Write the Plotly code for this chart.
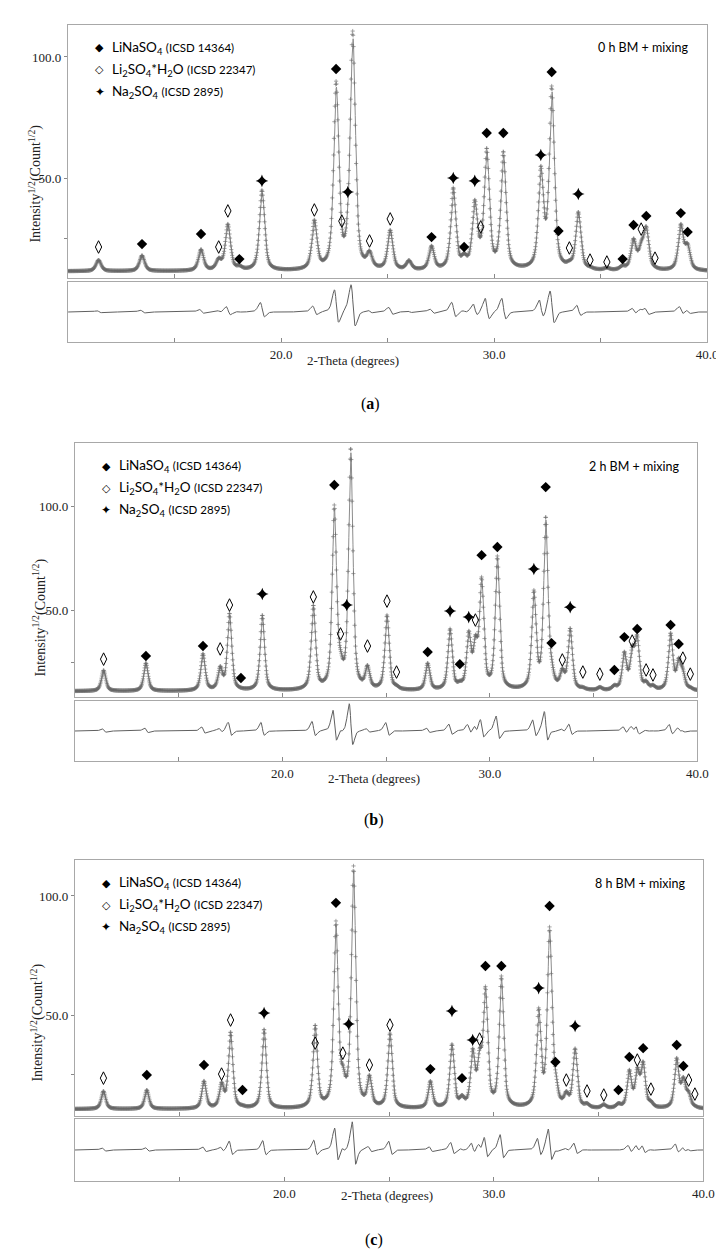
import numpy as np
import plotly.graph_objects as go

W, H = 724, 1253
two_theta = np.round(np.arange(10.0, 40.0 + 1e-9, 0.02), 2)

# ---------------- panel (a): 0 h BM + mixing ----------------
a_label = "0 h BM + mixing"
a_bg = 11.5
a_peak_pos = [11.43, 13.47, 16.24, 17.07, 17.50, 18.04, 19.10, 21.56, 22.58, 22.85,
              23.13, 23.36, 24.15, 25.12, 26.00, 27.06, 28.08, 28.59, 29.09, 29.37,
              29.65, 30.43, 32.19, 32.70, 33.02, 33.53, 33.95, 34.50, 35.29, 36.03,
              36.54, 36.90, 37.14, 37.55, 38.76, 39.08]
a_peak_top = [16.1, 18.0, 20.5, 17.0, 31.0, 14.0, 45.0, 32.7, 90.0, 24.0,
              41.0, 110.7, 20.0, 28.5, 16.0, 22.0, 46.0, 19.0, 41.0, 26.0,
              62.4, 61.0, 55.0, 88.0, 20.0, 16.0, 36.0, 13.5, 13.0, 14.0,
              25.0, 24.0, 30.0, 13.5, 31.0, 23.0]
a_lnso_pos = [13.47, 16.24, 18.04, 22.58, 23.36, 27.06, 28.59, 29.65, 30.43, 32.70,
              33.02, 36.03, 36.54, 37.14, 38.76, 39.08]
a_lnso_y = [22.7, 26.9, 16.5, 95.0, 114.5, 25.6, 21.5, 68.6, 68.6, 93.8,
            28.1, 16.5, 30.6, 34.3, 35.5, 27.7]
a_lsh_pos = [11.43, 17.07, 17.50, 21.56, 22.85, 24.15, 25.12, 29.37, 33.53, 34.50,
             35.29, 36.90, 37.55]
a_lsh_y = [21.5, 21.5, 36.4, 36.8, 32.2, 24.0, 33.1, 29.8, 21.1, 16.1,
           15.3, 28.9, 16.9]
a_nso_pos = [19.10, 23.13, 28.08, 29.09, 32.19, 33.95]
a_nso_y = [48.8, 44.2, 50.0, 48.8, 59.5, 43.4]

# ---------------- panel (b): 2 h BM + mixing ----------------
b_label = "2 h BM + mixing"
b_bg = 11.0
b_peak_pos = [11.38, 13.42, 16.17, 17.00, 17.45, 18.00, 19.03, 21.49, 22.50, 22.80,
              23.10, 23.29, 24.10, 25.04, 25.50, 27.00, 28.08, 28.55, 28.98, 29.30,
              29.60, 30.36, 32.12, 32.69, 32.97, 33.49, 33.87, 34.48, 35.30, 36.00,
              36.48, 36.86, 37.10, 37.53, 37.86, 38.71, 39.10, 39.30, 39.66]
b_peak_top = [21.0, 24.5, 29.0, 23.0, 48.5, 12.5, 47.6, 52.4, 100.5, 31.0,
              35.0, 128.0, 23.5, 47.6, 14.0, 24.5, 41.0, 16.0, 40.0, 38.0,
              65.9, 76.0, 59.6, 95.0, 27.0, 22.0, 41.3, 13.0, 13.0, 14.0,
              30.0, 33.0, 38.0, 16.0, 14.0, 39.0, 27.0, 22.0, 13.0]
b_lnso_pos = [13.42, 16.17, 18.00, 22.50, 23.29, 27.00, 28.55, 29.60, 30.36, 32.69,
              32.97, 36.00, 36.48, 37.10, 38.71, 39.10]
b_lnso_y = [27.9, 32.7, 17.3, 110.1, 132.2, 29.8, 24.0, 76.4, 80.3, 109.1,
            34.1, 21.2, 37.0, 40.9, 42.8, 33.7]
b_lsh_pos = [11.38, 17.00, 17.45, 21.49, 22.80, 24.10, 25.04, 25.50, 29.30, 33.49,
             34.48, 35.30, 36.86, 37.53, 37.86, 39.30, 39.66]
b_lsh_y = [26.4, 31.3, 52.4, 56.3, 38.5, 32.7, 54.3, 20.2, 45.2, 26.0,
           20.2, 19.2, 35.1, 21.2, 18.8, 26.9, 19.2]
b_nso_pos = [19.03, 23.10, 28.08, 28.98, 32.12, 33.87]
b_nso_y = [57.7, 52.4, 49.5, 46.6, 69.7, 51.4]

# ---------------- panel (c): 8 h BM + mixing ----------------
c_label = "8 h BM + mixing"
c_bg = 10.5
c_peak_pos = [11.36, 13.43, 16.16, 17.00, 17.43, 18.00, 19.03, 21.47, 22.46, 22.79,
              23.07, 23.30, 24.06, 25.04, 26.97, 28.00, 28.48, 28.99, 29.32, 29.60,
              30.36, 32.14, 32.66, 32.94, 33.46, 33.88, 34.45, 35.25, 35.95, 36.47,
              36.85, 37.13, 37.50, 38.73, 39.05, 39.30, 39.60]
c_peak_top = [18.0, 18.5, 22.3, 21.8, 42.9, 12.2, 44.0, 45.8, 89.5, 29.0,
              32.0, 112.6, 24.8, 42.4, 22.3, 37.8, 16.4, 36.0, 36.0, 62.0,
              66.4, 53.0, 87.0, 27.0, 18.0, 36.0, 13.0, 12.5, 13.0, 27.0,
              28.0, 30.5, 14.0, 32.0, 24.0, 18.0, 12.0]
c_lnso_pos = [13.43, 16.16, 18.00, 22.46, 23.30, 26.97, 28.48, 29.60, 30.36, 32.66,
              32.94, 35.95, 36.47, 37.13, 38.73, 39.05]
c_lnso_y = [24.8, 29.0, 18.5, 97.1, 116.4, 27.3, 23.5, 70.6, 70.6, 95.8,
            30.3, 18.5, 32.4, 36.1, 37.4, 28.6]
c_lsh_pos = [11.36, 17.00, 17.43, 21.47, 22.79, 24.06, 25.04, 29.32, 33.46, 34.45,
             35.25, 36.85, 37.50, 39.30, 39.60]
c_lsh_y = [23.5, 25.2, 47.9, 38.2, 34.0, 29.0, 45.8, 39.9, 22.7, 18.1,
           16.4, 31.1, 18.9, 22.7, 16.8]
c_nso_pos = [19.03, 23.07, 28.00, 28.99, 32.14, 33.88]
c_nso_y = [50.8, 46.2, 51.7, 39.5, 61.3, 45.4]

x_tick_vals = [20, 30, 40]
x_tick_text = ["20.0", "30.0", "40.0"]
x_minor_vals = [15, 25, 35]
y_tick_vals = [50, 100]
y_tick_text = ["50.0", "100.0"]
y_minor_vals = [25]

phase_names = ["LiNaSO<sub>4</sub>", "Li<sub>2</sub>SO<sub>4</sub>*H<sub>2</sub>O", "Na<sub>2</sub>SO<sub>4</sub>"]
phase_icsd = ["(ICSD 14364)", "(ICSD 22347)", "(ICSD 2895)"]
phase_glyph = ["\u25c6", "\u25c7", "\u2726"]


def shape(d, fwhm, eta=0.6):
    s = fwhm / 2.3548
    g = np.exp(-d ** 2 / (2 * s ** 2))
    l = 1.0 / (1.0 + (2 * d / fwhm) ** 2)
    return eta * l + (1 - eta) * g


def build(pos, top, bg, fwhm, shift, hfac):
    pos = np.asarray(pos, float)
    target = np.asarray(top, float) - bg
    M = shape(pos[:, None] - pos[None, :], fwhm)
    amp = target.copy()
    for _ in range(500):
        amp = amp * target / (M @ amp)
    obs = bg + shape(two_theta[:, None] - pos[None, :], fwhm) @ amp
    calc = bg + shape(two_theta[:, None] - (pos[None, :] + shift), fwhm) @ (amp * hfac)
    return obs, calc, obs - calc


panels = [
    dict(lbl=a_label, bg=a_bg, pos=a_peak_pos, top=a_peak_top, fwhm=0.29, shift=0.014, hfac=0.97,
         mk=[(a_lnso_pos, a_lnso_y), (a_lsh_pos, a_lsh_y), (a_nso_pos, a_nso_y)],
         L=61, R=710, mt=17, mb=270, rt=274, rb=334, yr=[8.7, 113.2], tag="a",
         ytc=176, ytx=27, xtx=350, xty=352, tagy=396, tagx=368),
    dict(lbl=b_label, bg=b_bg, pos=b_peak_pos, top=b_peak_top, fwhm=0.25, shift=0.008, hfac=0.98,
         mk=[(b_lnso_pos, b_lnso_y), (b_lsh_pos, b_lsh_y), (b_nso_pos, b_nso_y)],
         L=68, R=700, mt=435, mb=689, rt=693, rb=753, yr=[8.2, 130.3], tag="b",
         ytc=610, ytx=32, xtx=372, xty=770, tagy=812, tagx=372),
    dict(lbl=c_label, bg=c_bg, pos=c_peak_pos, top=c_peak_top, fwhm=0.25, shift=0.008, hfac=0.98,
         mk=[(c_lnso_pos, c_lnso_y), (c_lsh_pos, c_lsh_y), (c_nso_pos, c_nso_y)],
         L=68, R=706, mt=852, mb=1108, rt=1111, rb=1173, yr=[7.6, 115.1], tag="c",
         ytc=1015, ytx=29, xtx=385, xty=1187, tagy=1232, tagx=372),
]

symbols = [dict(symbol="diamond", size=8, color="black"),
           dict(symbol="diamond-tall-open", size=9, color="black", line=dict(width=1, color="black")),
           dict(symbol="star-diamond", size=9, color="black")]

fig = go.Figure()
layout = dict(width=W, height=H, margin=dict(l=0, r=0, t=0, b=0),
              paper_bgcolor="white", plot_bgcolor="white", showlegend=False)
annotations = []
LINE = "#a8a8a8"
SERIF = "Liberation Serif"
SANS = "Lato"


def px(xp):
    return xp / W


def py(yp):
    return 1 - yp / H


for i, p in enumerate(panels):
    km = 2 * i + 1
    kr = 2 * i + 2
    sm = "" if km == 1 else str(km)
    sr = str(kr)
    obs, calc, res = build(p["pos"], p["top"], p["bg"], p["fwhm"], p["shift"], p["hfac"])
    m = 1.1 * np.max(np.abs(res))
    # main
    fig.add_trace(go.Scatter(x=two_theta, y=calc, mode="lines", line=dict(color="#8c8c8c", width=1),
                             xaxis="x" + sm, yaxis="y" + sm, hoverinfo="skip"))
    fig.add_trace(go.Scatter(x=two_theta, y=obs, mode="markers",
                             marker=dict(symbol="cross-thin", size=3, line=dict(width=0.6, color="#6a6a6a")),
                             xaxis="x" + sm, yaxis="y" + sm, hoverinfo="skip"))
    for (mp, my), st in zip(p["mk"], symbols):
        fig.add_trace(go.Scatter(x=mp, y=my, mode="markers", marker=st, cliponaxis=False,
                                 xaxis="x" + sm, yaxis="y" + sm))
    # residual
    fig.add_trace(go.Scatter(x=two_theta, y=res, mode="lines", line=dict(color="#606060", width=1),
                             xaxis="x" + sr, yaxis="y" + sr, hoverinfo="skip"))

    xd = [px(p["L"]), px(p["R"])]
    common_x = dict(domain=xd, range=[10, 40], showline=True, mirror=True, linecolor=LINE, linewidth=1.3,
                    showgrid=False, zeroline=False, tickvals=x_tick_vals, ticks="inside", ticklen=4,
                    tickcolor="#888", tickwidth=1,
                    minor=dict(tickvals=x_minor_vals, ticks="inside", ticklen=4, tickcolor="#888",
                               tickwidth=1, showgrid=False))
    layout["xaxis" + sm] = dict(common_x, anchor="y" + sm, showticklabels=False)
    layout["xaxis" + sr] = dict(common_x, anchor="y" + sr, ticktext=x_tick_text, showticklabels=True,
                                tickfont=dict(family=SERIF, size=13, color="#222"))
    layout["yaxis" + sm] = dict(domain=[py(p["mb"]), py(p["mt"])], anchor="x" + sm, range=p["yr"],
                                showline=True, mirror=True, linecolor=LINE, linewidth=1.3, showgrid=False,
                                zeroline=False, tickvals=y_tick_vals, ticktext=y_tick_text, ticks="outside",
                                ticklen=3, tickcolor="#888", tickfont=dict(family=SERIF, size=13, color="#222"),
                                minor=dict(tickvals=y_minor_vals, ticks="outside", ticklen=3,
                                           tickcolor="#888", showgrid=False))
    layout["yaxis" + sr] = dict(domain=[py(p["rb"]), py(p["rt"])], anchor="x" + sr, range=[-m, m],
                                showline=True, mirror=True, linecolor=LINE, linewidth=1.3, showgrid=False,
                                zeroline=False, showticklabels=False, ticks="")

    # legend (glyph + text)
    ly0 = p["mt"] + 23
    for j in range(3):
        yy = ly0 + 22 * j
        annotations.append(dict(x=px(p["L"] + 32), y=py(yy), xref="paper", yref="paper", text=phase_glyph[j],
                                showarrow=False, xanchor="center", yanchor="middle",
                                font=dict(family="DejaVu Sans", size=11 if j != 2 else 12, color="black")))
        annotations.append(dict(x=px(p["L"] + 43), y=py(yy), xref="paper", yref="paper",
                                text=phase_names[j] + " <span style='font-size:11.5px'>" + phase_icsd[j] + "</span>",
                                showarrow=False, xanchor="left", yanchor="middle",
                                font=dict(family=SANS, size=13.5, color="black")))
    annotations.append(dict(x=px(p["R"] - 17), y=py(p["mt"] + 23), xref="paper", yref="paper", text=p["lbl"],
                            showarrow=False, xanchor="right", yanchor="middle",
                            font=dict(family=SANS, size=12.5, color="black")))
    # axis titles
    annotations.append(dict(x=px(p["ytx"]), y=py(p["ytc"]), xref="paper", yref="paper",
                            text="Intensity<sup>1/2</sup>(Count<sup>1/2</sup>)", textangle=-90,
                            showarrow=False, xanchor="center", yanchor="middle",
                            font=dict(family=SERIF, size=14, color="#222")))
    annotations.append(dict(x=px(p["xtx"]), y=py(p["xty"]), xref="paper", yref="paper",
                            text="2-Theta (degrees)", showarrow=False, xanchor="center", yanchor="middle",
                            font=dict(family=SERIF, size=13, color="#222")))
    annotations.append(dict(x=px(p["tagx"]), y=py(p["tagy"]), xref="paper", yref="paper",
                            text="(<b>" + p["tag"] + "</b>)", showarrow=False, xanchor="center",
                            yanchor="middle", font=dict(family=SERIF, size=16, color="black")))

layout["annotations"] = annotations
fig.update_layout(**layout)
fig.write_html("out.html")
